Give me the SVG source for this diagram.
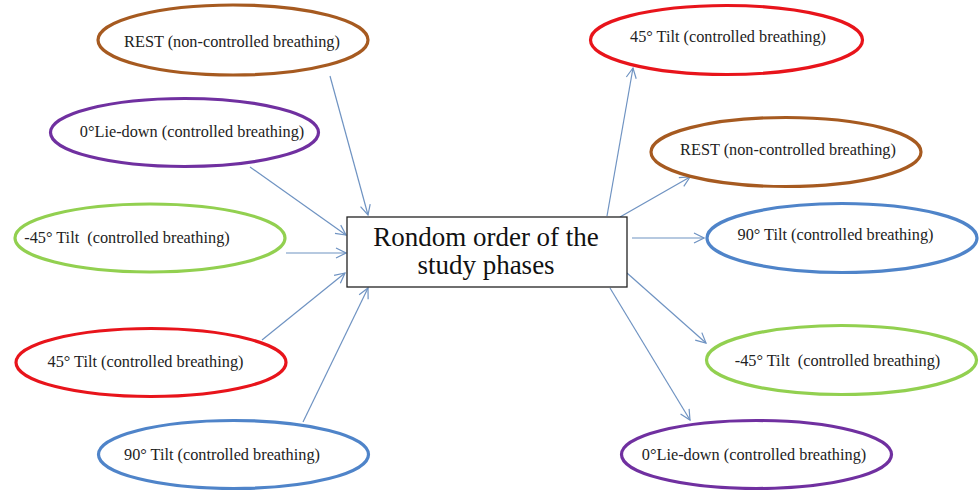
<svg xmlns="http://www.w3.org/2000/svg" width="979" height="490" viewBox="0 0 979 490">
<defs>
<marker id="arr" viewBox="0 0 12 12" refX="11" refY="6" markerWidth="12" markerHeight="12" markerUnits="userSpaceOnUse" orient="auto">
<path d="M1,1 L11,6 L1,11" fill="none" stroke="#6f93c2" stroke-width="1.2"/>
</marker>
<style>
.e{fill:#fff;stroke-width:3.2}
.brown{stroke:#a65a20}
.purple{stroke:#7030a0}
.green{stroke:#92d050}
.red{stroke:#e8141b}
.blue{stroke:#4f84c9}
.t{font-family:"Liberation Serif","DejaVu Serif",serif;font-size:16.3px;fill:#222;text-anchor:middle;white-space:pre}
.c{stroke:#6f93c2;stroke-width:1.2;fill:none;marker-end:url(#arr)}
.big{font-family:"Liberation Serif","DejaVu Serif",serif;font-size:27px;fill:#111;text-anchor:middle}
</style>
</defs>
<rect width="979" height="490" fill="#fff"/>
<g id="connectors">
<line class="c" x1="330" y1="76" x2="368" y2="215"/>
<line class="c" x1="250" y1="167" x2="346" y2="235"/>
<line class="c" x1="286" y1="253" x2="346" y2="253"/>
<line class="c" x1="262" y1="340" x2="345" y2="273"/>
<line class="c" x1="303" y1="422" x2="368" y2="288"/>
<line class="c" x1="607" y1="216" x2="633" y2="68"/>
<line class="c" x1="620" y1="217" x2="690" y2="177"/>
<line class="c" x1="632" y1="238" x2="704" y2="238"/>
<line class="c" x1="627" y1="273" x2="706" y2="343"/>
<line class="c" x1="610" y1="288" x2="690" y2="420"/>
</g>
<g id="center">
<rect x="347" y="217" width="280" height="70" fill="#fff" stroke="#222" stroke-width="1.3"/>
<text class="big" x="486" y="246">Rondom order of the</text>
<text class="big" x="486" y="274">study phases</text>
</g>
<g id="l1"><ellipse class="e brown" cx="233" cy="40" rx="135" ry="35"/><text class="t" x="232" y="47">REST (non-controlled breathing)</text></g>
<g id="l2"><ellipse class="e purple" cx="184.5" cy="132.5" rx="134" ry="34"/><text class="t" x="192" y="137">0°Lie-down (controlled breathing)</text></g>
<g id="l3"><ellipse class="e green" cx="150" cy="238" rx="135" ry="34"/><text class="t" x="127" y="243" xml:space="preserve">-45° Tilt  (controlled breathing)</text></g>
<g id="l4"><ellipse class="e red" cx="151" cy="362.5" rx="135" ry="34"/><text class="t" x="145.5" y="367">45° Tilt (controlled breathing)</text></g>
<g id="l5"><ellipse class="e blue" cx="233.5" cy="454.5" rx="135" ry="34"/><text class="t" x="222" y="460">90° Tilt (controlled breathing)</text></g>
<g id="r1"><ellipse class="e red" cx="726.5" cy="40" rx="136" ry="34.5"/><text class="t" x="728" y="42">45° Tilt (controlled breathing)</text></g>
<g id="r2"><ellipse class="e brown" cx="786" cy="152" rx="135" ry="34.5"/><text class="t" x="788" y="155">REST (non-controlled breathing)</text></g>
<g id="r3"><ellipse class="e blue" cx="842" cy="238" rx="135" ry="34.5"/><text class="t" x="835.5" y="240">90° Tilt (controlled breathing)</text></g>
<g id="r4"><ellipse class="e green" cx="841.5" cy="360" rx="135" ry="34.5"/><text class="t" x="837.5" y="366" xml:space="preserve">-45° Tilt  (controlled breathing)</text></g>
<g id="r5"><ellipse class="e purple" cx="756.5" cy="454.5" rx="135" ry="34"/><text class="t" x="754" y="460">0°Lie-down (controlled breathing)</text></g>
</svg>
